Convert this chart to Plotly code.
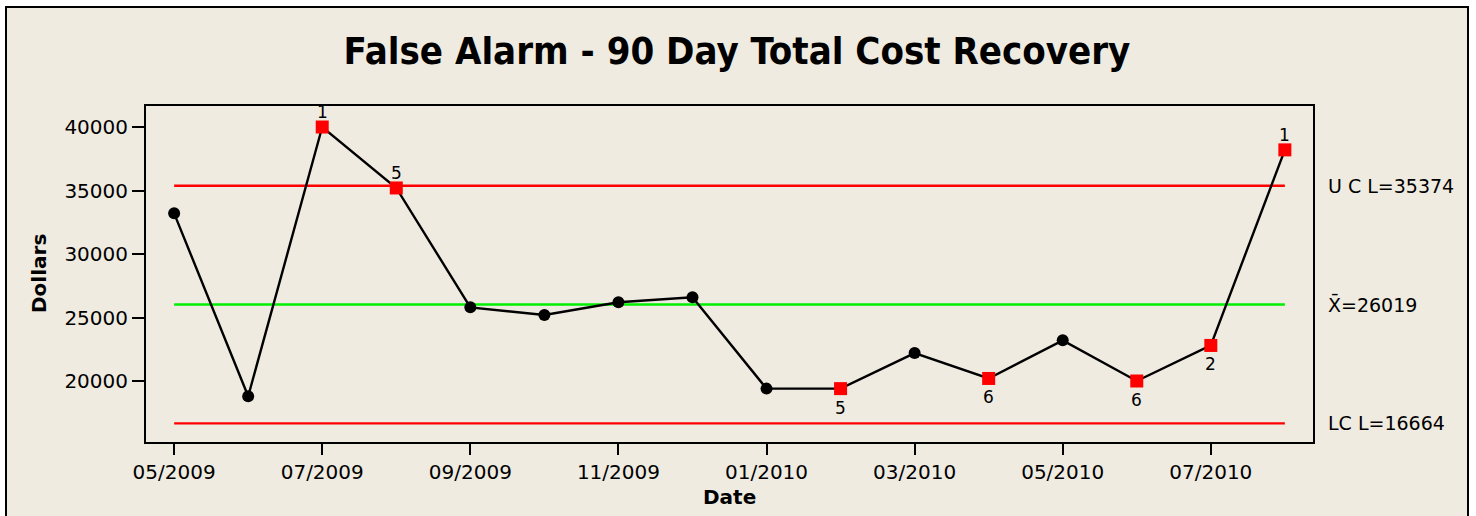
import plotly.graph_objects as go

months = ["05/2009", "06/2009", "07/2009", "08/2009", "09/2009", "10/2009", "11/2009", "12/2009",
          "01/2010", "02/2010", "03/2010", "04/2010", "05/2010", "06/2010", "07/2010", "08/2010"]
dollars = [33200, 18800, 40000, 35200, 25800, 25200, 26200, 26600,
           19400, 19400, 22200, 20200, 23200, 20000, 22800, 38200]
flag_labels = ["", "", "1", "5", "", "", "", "", "", "5", "", "6", "", "6", "2", "1"]
flag_above = [False, False, True, True, False, False, False, False,
              False, False, False, False, False, False, False, True]
ucl = 35374
center = 26019
lcl = 16664
tick_months = ["05/2009", "07/2009", "09/2009", "11/2009", "01/2010", "03/2010", "05/2010", "07/2010"]
y_ticks = [20000, 25000, 30000, 35000, 40000]

FONT = "DejaVu Sans"
idx = list(range(len(months)))
tickvals = [months.index(m) for m in tick_months]

fig = go.Figure()

# control limits
for val, col in [(ucl, "#FF0000"), (center, "#00EE00"), (lcl, "#FF0000")]:
    fig.add_trace(go.Scatter(x=[idx[0], idx[-1]], y=[val, val], mode="lines",
                             line=dict(color=col, width=2.4), hoverinfo="skip", showlegend=False))

# data line
fig.add_trace(go.Scatter(x=idx, y=dollars, mode="lines", line=dict(color="black", width=2.4),
                         showlegend=False))

ok_x = [i for i in idx if flag_labels[i] == ""]
bad_x = [i for i in idx if flag_labels[i] != ""]
fig.add_trace(go.Scatter(x=ok_x, y=[dollars[i] for i in ok_x], mode="markers",
                         marker=dict(symbol="circle", size=12, color="black"), showlegend=False))
fig.add_trace(go.Scatter(x=bad_x, y=[dollars[i] for i in bad_x], mode="markers",
                         marker=dict(symbol="square", size=13, color="#FF0000"), showlegend=False))

for i in bad_x:
    fig.add_annotation(x=i, y=dollars[i], xref="x", yref="y", text=flag_labels[i], showarrow=False,
                       xanchor="center", yanchor="middle", yshift=15 if flag_above[i] else -19,
                       font=dict(family=FONT, size=17, color="black"))

L, T, R, B = 146, 106, 1313, 442
W, H = 1476, 516
pw, ph = R - L, B - T

def px(x):
    return (x - L) / pw

def py(y):
    return (B - y) / ph

# outer frame
fig.add_shape(type="rect", xref="paper", yref="paper", x0=px(6), x1=px(1468), y0=py(530), y1=py(7),
              line=dict(color="black", width=2), fillcolor="#EFEBE1", layer="below")

for val, txt in [(ucl, "U C L=35374"), (center, "X\u0304=26019"), (lcl, "LC L=16664")]:
    fig.add_annotation(x=px(1326), y=val, xref="paper", yref="y", text=txt, showarrow=False,
                       xanchor="left", yanchor="middle", font=dict(family=FONT, size=19, color="black"))

fig.add_annotation(x=px(39), y=0.5, xref="paper", yref="paper", text="<b>Dollars</b>", textangle=-90,
                   showarrow=False, xanchor="center", yanchor="middle",
                   font=dict(family=FONT, size=20, color="black"))
fig.add_annotation(x=0.5, y=py(497), xref="paper", yref="paper", text="<b>Date</b>",
                   showarrow=False, xanchor="center", yanchor="middle",
                   font=dict(family=FONT, size=20, color="black"))

fig.update_layout(
    width=W, height=H,
    margin=dict(l=L, r=W - R, t=T, b=H - B, pad=0),
    paper_bgcolor="white", plot_bgcolor="white",
    title=dict(text="<b>False Alarm - 90 Day Total Cost Recovery</b>", x=px(737), xref="paper",
               xanchor="center", y=1 - 51 / H, yanchor="middle",
               font=dict(family="DejaVu Sans Condensed, DejaVu Sans", size=38, color="black")),
    xaxis=dict(range=[-0.38, 15.38], tickvals=tickvals, ticktext=tick_months, showgrid=False,
               zeroline=False, ticks="outside", ticklen=11, tickwidth=2, tickcolor="black",
               showline=True, linecolor="black", linewidth=2, mirror=True,
               tickfont=dict(family=FONT, size=20, color="black")),
    yaxis=dict(range=[15197, 41654], tickvals=y_ticks, ticktext=[str(v) for v in y_ticks],
               showgrid=False, zeroline=False, ticks="outside", ticklen=12, tickwidth=2,
               tickcolor="black", showline=True, linecolor="black", linewidth=2, mirror=True,
               tickfont=dict(family=FONT, size=20, color="black")),
)

fig.write_html("out.html", config={"displayModeBar": False},
               post_script="document.body.style.margin='0px';")
